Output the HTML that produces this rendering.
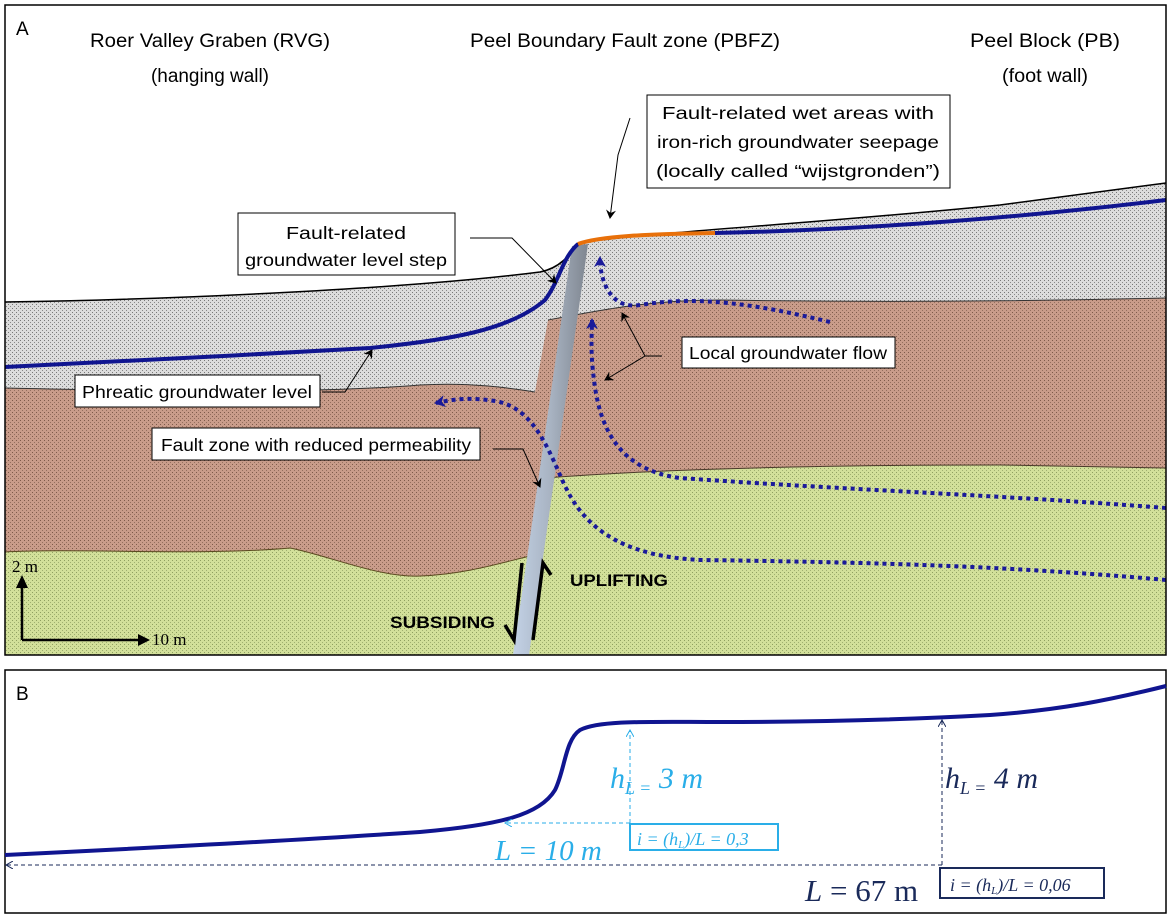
<!DOCTYPE html>
<html><head><meta charset="utf-8"><style>
html,body{margin:0;padding:0;background:#fff;}
svg{display:block;font-family:"Liberation Sans",sans-serif;}
</style></head><body>
<svg width="1170" height="919" viewBox="0 0 1170 919" xmlns="http://www.w3.org/2000/svg">
<defs>
<pattern id="pg" width="4" height="4" patternUnits="userSpaceOnUse"><rect width="4" height="4" fill="#dcdcdc"/><rect x="0" y="0" width="1" height="1" fill="#777"/><rect x="2" y="2" width="1" height="1" fill="#888"/></pattern>
<pattern id="pb" width="4" height="4" patternUnits="userSpaceOnUse"><rect width="4" height="4" fill="#c99c8a"/><rect x="0" y="0" width="1" height="1" fill="#7e5a4a"/><rect x="2" y="2" width="1" height="1" fill="#946f5e"/></pattern>
<pattern id="pgr" width="4" height="4" patternUnits="userSpaceOnUse"><rect width="4" height="4" fill="#d2e09a"/><rect x="0" y="0" width="1" height="1" fill="#8fa060"/><rect x="2" y="2" width="1" height="1" fill="#a0b070"/></pattern>
<linearGradient id="fg" x1="0" x2="1" y1="0" y2="0"><stop offset="0" stop-color="#c3d2e6"/><stop offset="0.5" stop-color="#a8b3c2"/><stop offset="1" stop-color="#7f8690"/></linearGradient>
<marker id="ab" markerWidth="10" markerHeight="10" refX="8" refY="5" orient="auto" markerUnits="userSpaceOnUse"><path d="M0,0 L9,5 L0,10 L3,5z" fill="#000"/></marker>
<marker id="abl" markerWidth="12" markerHeight="12" refX="9" refY="6" orient="auto" markerUnits="userSpaceOnUse"><path d="M0,0 L11,6 L0,12 L3,6z" fill="#1a1a9a"/></marker>
<marker id="ac" markerWidth="8" markerHeight="8" refX="7" refY="4" orient="auto" markerUnits="userSpaceOnUse"><path d="M0,0 L7,4 L0,8" fill="none" stroke="#2aaee8" stroke-width="1"/></marker>
<marker id="ad" markerWidth="8" markerHeight="8" refX="7" refY="4" orient="auto" markerUnits="userSpaceOnUse"><path d="M0,0 L7,4 L0,8" fill="none" stroke="#1a2a5a" stroke-width="1"/></marker>
</defs>
<rect x="0" y="0" width="1170" height="919" fill="#fff"/>
<path d="M5,302 C150,300 400,290 540,272 C560,268 570,255 578,243 C650,232 800,225 1000,205 L1166,183 L1166,655 L5,655z" fill="url(#pg)"/>
<path d="M5,388 C100,390 300,395 420,385 C470,382 510,388 535,392 L548,320 C600,310 650,300 720,300 C850,302 1000,302 1166,298 L1166,655 L5,655z" fill="url(#pb)"/>
<path d="M5,552 C80,548 200,556 290,548 C330,556 380,578 420,576 C470,574 510,560 535,555 L545,478 C650,470 800,465 1000,465 L1166,468 L1166,655 L5,655z" fill="url(#pgr)"/>
<path d="M5,388 C100,390 300,395 420,385 C470,382 510,388 535,392" fill="none" stroke="#333" stroke-width="1"/>
<path d="M548,320 C600,310 650,300 720,300 C850,302 1000,302 1166,298" fill="none" stroke="#333" stroke-width="1"/>
<path d="M5,552 C80,548 200,556 290,548 C330,556 380,578 420,576 C470,574 510,560 535,555" fill="none" stroke="#5a4a20" stroke-width="1"/>
<path d="M545,478 C650,470 800,465 1000,465 L1166,468" fill="none" stroke="#4a3a2a" stroke-width="1"/>
<path d="M5,302 C150,300 400,290 540,272 C560,268 570,255 578,243 C650,232 800,225 1000,205 L1166,183" fill="none" stroke="#000" stroke-width="1.5"/>
<path d="M572,246 L588,244 L529,655 L513,655z" fill="url(#fg)"/>
<path d="M5,367 C100,362 250,355 370,348 C450,340 510,330 545,300 C560,280 562,258 578,244" fill="none" stroke="#101590" stroke-width="4"/>
<path d="M578,244 C600,236 650,234 715,233" fill="none" stroke="#e8700a" stroke-width="4"/>
<path d="M715,233 C850,230 1000,220 1166,200" fill="none" stroke="#101590" stroke-width="4"/>
<g fill="none" stroke="#1a1a9a" stroke-width="4" stroke-dasharray="4,4">
<path d="M830,322 C760,305 700,295 640,305 C610,310 600,280 600,258" marker-end="url(#abl)"/>
<path d="M1166,508 C1000,495 850,490 680,478 C620,470 600,430 594,380 C590,350 592,335 592,320" marker-end="url(#abl)"/>
<path d="M1166,580 C1000,565 850,562 700,560 C600,555 575,510 560,475 C545,440 530,410 500,402 C470,396 450,400 436,403" marker-end="url(#abl)"/>
</g>
<g fill="none" stroke="#000" stroke-width="1">
<path d="M630,118 L618,155 L610,218" marker-end="url(#ab)"/>
<path d="M470,238 L512,238 L556,283" marker-end="url(#ab)"/>
<path d="M662,356 L645,356 L622,313" marker-end="url(#ab)"/>
<path d="M645,356 L605,380" marker-end="url(#ab)"/>
<path d="M322,392 L345,392 L372,350" marker-end="url(#ab)"/>
<path d="M493,449 L523,449 L540,487" marker-end="url(#ab)"/>
</g>
<g fill="#fff" stroke="#000" stroke-width="1">
<rect x="647" y="95" width="303" height="93"/>
<rect x="238" y="213" width="217" height="62"/>
<rect x="75" y="375" width="245" height="32"/>
<rect x="152" y="428" width="328" height="32"/>
<rect x="682" y="337" width="213" height="31"/>
</g>
<g font-size="17.5" fill="#000" text-anchor="middle">
<text x="798" y="119" textLength="272" lengthAdjust="spacingAndGlyphs">Fault-related wet areas with</text>
<text x="798" y="148" textLength="282" lengthAdjust="spacingAndGlyphs">iron-rich groundwater seepage</text>
<text x="798" y="177" textLength="284" lengthAdjust="spacingAndGlyphs">(locally called “wijstgronden”)</text>
<text x="346" y="239" textLength="120" lengthAdjust="spacingAndGlyphs">Fault-related</text>
<text x="346" y="266" textLength="202" lengthAdjust="spacingAndGlyphs">groundwater level step</text>
<text x="197" y="398" textLength="230" lengthAdjust="spacingAndGlyphs">Phreatic groundwater level</text>
<text x="316" y="451" textLength="310" lengthAdjust="spacingAndGlyphs">Fault zone with reduced permeability</text>
<text x="788" y="359" textLength="198" lengthAdjust="spacingAndGlyphs">Local groundwater flow</text>
</g>
<g font-size="19" fill="#000" text-anchor="middle">
<text x="210" y="47" textLength="240" lengthAdjust="spacingAndGlyphs">Roer Valley Graben (RVG)</text>
<text x="210" y="82" textLength="118" lengthAdjust="spacingAndGlyphs">(hanging wall)</text>
<text x="625" y="47" textLength="310" lengthAdjust="spacingAndGlyphs">Peel Boundary Fault zone (PBFZ)</text>
<text x="1045" y="47" textLength="150" lengthAdjust="spacingAndGlyphs">Peel Block (PB)</text>
<text x="1045" y="82" textLength="86" lengthAdjust="spacingAndGlyphs">(foot wall)</text>
</g>
<text x="16" y="35" font-size="19">A</text>
<g stroke="#000" stroke-width="2.5" fill="none">
<path d="M22,640 L22,585"/><path d="M22,640 L140,640"/>
</g>
<path d="M22,575 L16,588 L28,588z" fill="#000"/>
<path d="M150,640 L138,634 L138,646z" fill="#000"/>
<text x="12" y="572" font-family="Liberation Serif" font-size="17">2 m</text>
<text x="152" y="645" font-family="Liberation Serif" font-size="17">10 m</text>
<g stroke="#000" stroke-width="3.5" fill="none">
<path d="M522,563 L514,640 L505,625"/>
<path d="M533,640 L543,563 L551,575"/>
</g>
<text x="390" y="628" font-size="17" font-weight="bold" textLength="105" lengthAdjust="spacingAndGlyphs">SUBSIDING</text>
<text x="570" y="586" font-size="17" font-weight="bold" textLength="98" lengthAdjust="spacingAndGlyphs">UPLIFTING</text>
<rect x="5" y="5" width="1161" height="650" fill="none" stroke="#000" stroke-width="1.5"/>
<rect x="5" y="670" width="1161" height="243" fill="none" stroke="#000" stroke-width="1.5"/>
<text x="16" y="700" font-size="19">B</text>
<path d="M5,855 C150,848 300,840 420,832 C500,825 540,815 555,790 C565,770 565,740 580,730 C600,720 650,722 720,722 C800,722 900,720 990,715 C1060,710 1110,700 1166,686" fill="none" stroke="#101590" stroke-width="4"/>
<g fill="none" stroke-width="1" stroke-dasharray="4,3">
<path d="M630,823 L630,730" stroke="#2aaee8" marker-end="url(#ac)"/>
<path d="M630,823 L505,823" stroke="#2aaee8" marker-end="url(#ac)"/>
<path d="M942,865 L942,720" stroke="#1a2a5a" marker-end="url(#ad)"/>
<path d="M942,865 L6,865" stroke="#1a2a5a" marker-end="url(#ad)"/>
</g>
<rect x="630" y="824" width="148" height="26" fill="#fff" stroke="#2aaee8" stroke-width="2"/>
<rect x="940" y="868" width="164" height="30" fill="#fff" stroke="#1a2a5a" stroke-width="2"/>
<g font-family="Liberation Serif" font-style="italic">
<text x="637" y="845" font-size="18" fill="#2aaee8">i = (h<tspan font-size="11" dy="3">L</tspan><tspan dy="-3">)/L = 0,3</tspan></text>
<text x="950" y="891" font-size="18" fill="#1a2a5a">i = (h<tspan font-size="11" dy="3">L</tspan><tspan dy="-3">)/L = 0,06</tspan></text>
<text x="610" y="788" font-size="30" fill="#2aaee8">h<tspan font-size="18" dy="6">L =</tspan><tspan dy="-6"> 3 m</tspan></text>
<text x="495" y="860" font-size="29" fill="#2aaee8">L = 10 m</text>
<text x="945" y="788" font-size="30" fill="#1a2a5a">h<tspan font-size="18" dy="6">L =</tspan><tspan dy="-6"> 4 m</tspan></text>
</g>
<text x="805" y="901" font-family="Liberation Serif" font-size="31" fill="#1a2a5a"><tspan font-style="italic">L</tspan> = 67 m</text>
</svg>
</body></html>
